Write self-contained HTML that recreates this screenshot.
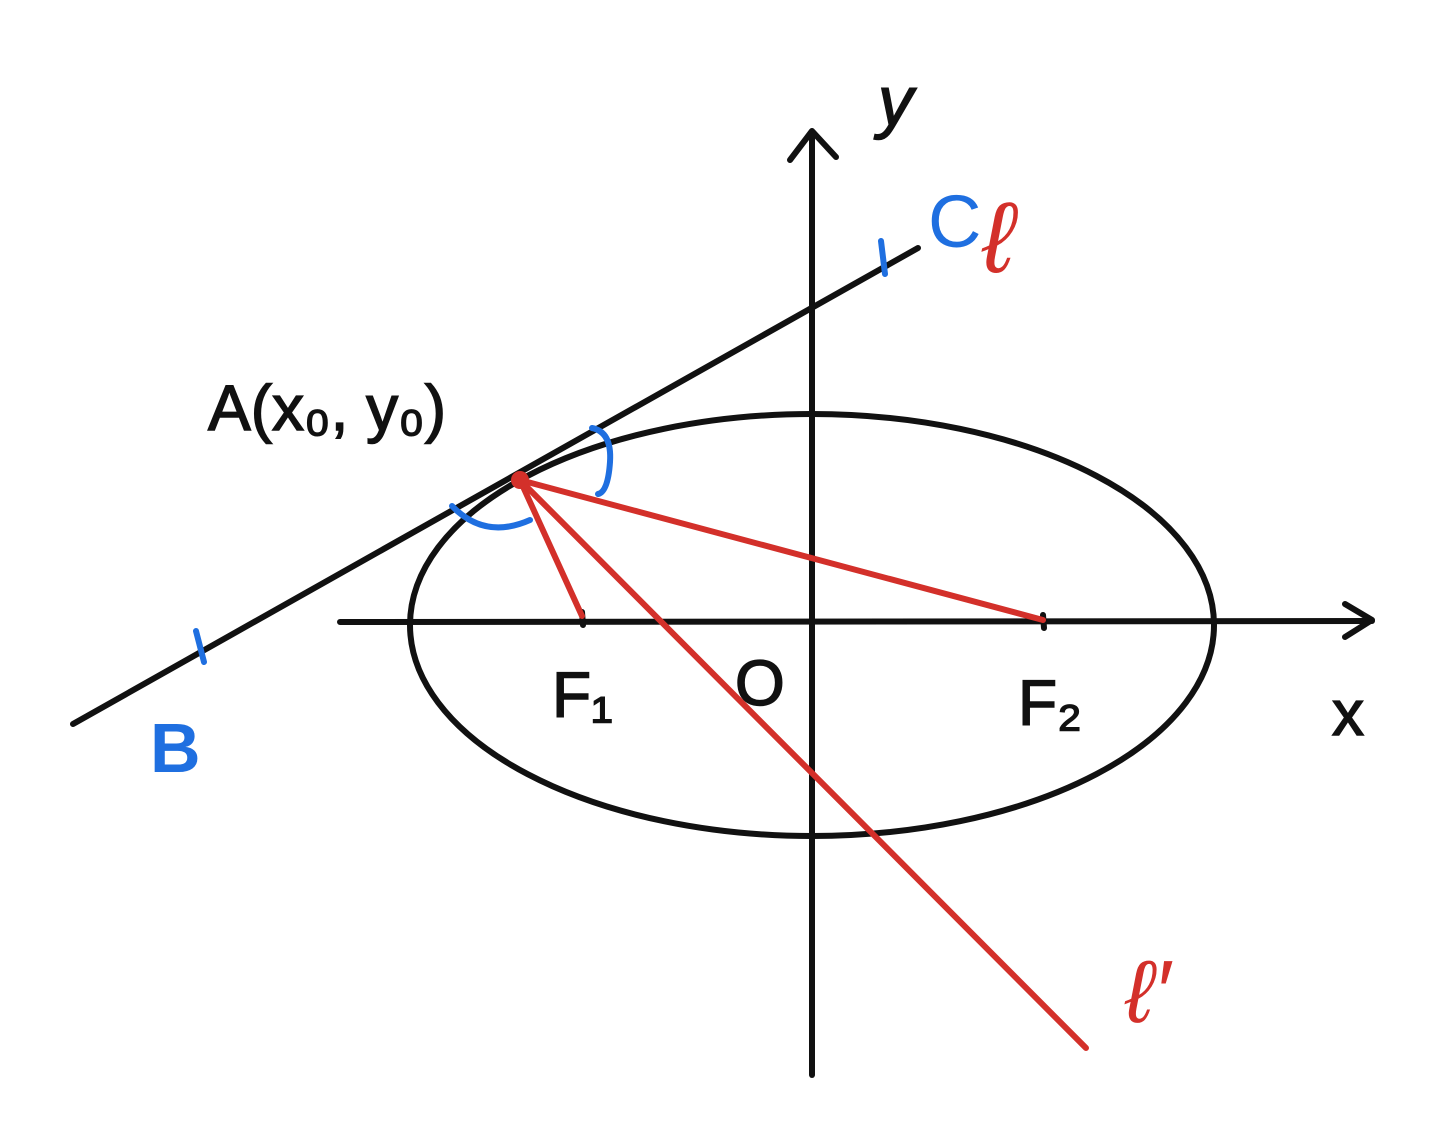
<!DOCTYPE html>
<html>
<head>
<meta charset="utf-8">
<style>
html,body{margin:0;padding:0;background:#fff;}
svg{display:block;}
text{font-family:"Liberation Sans",sans-serif;}
</style>
</head>
<body>
<svg width="1450" height="1131" viewBox="0 0 1450 1131" xmlns="http://www.w3.org/2000/svg">
<rect width="1450" height="1131" fill="#fff"/>
<g stroke="#111" stroke-width="6" fill="none" stroke-linecap="round" stroke-linejoin="round">
  <line x1="340" y1="622" x2="1372" y2="621"/>
  <polyline points="1345,604 1372,620 1345,637"/>
  <line x1="812" y1="1075" x2="812" y2="132"/>
  <polyline points="790,160 812,131 836,157"/>
  <ellipse cx="812" cy="625" rx="402" ry="211"/>
  <line x1="73" y1="724" x2="918" y2="248"/>
  <line x1="582" y1="612" x2="583" y2="625"/>
  <line x1="1043" y1="615" x2="1044" y2="628"/>
</g>
<g stroke="#d3302a" stroke-width="6" fill="none" stroke-linecap="round">
  <line x1="520" y1="480" x2="582" y2="616"/>
  <line x1="520" y1="480" x2="1043" y2="620"/>
  <line x1="520" y1="480" x2="1086" y2="1048"/>
</g>
<circle cx="520" cy="480" r="9" fill="#d3302a"/>
<g stroke="#1f6fe0" stroke-width="6" fill="none" stroke-linecap="round">
  <path d="M452,506 Q485,540 530,520"/>
  <path d="M592,428 Q612,432 610,462 Q608,492 598,494"/>
  <line x1="196" y1="631" x2="204" y2="662"/>
  <line x1="881" y1="241" x2="885" y2="274"/>
</g>
<g fill="#111" font-size="64" stroke="#111" stroke-width="1.5">
  <text x="878" y="125" font-style="italic" font-size="70">y</text>
  <text x="208" y="430">A(x₀, y₀)</text>
  <text x="552" y="717">F₁</text>
  <text x="735" y="705">O</text>
  <text x="1018" y="725">F₂</text>
  <text x="1332" y="735">x</text>
</g>
<text x="928" y="247" font-size="74" fill="#1f6fe0">C</text>
<text x="150" y="772" font-size="70" fill="#1f6fe0" font-weight="bold">B</text>
<text x="982" y="272" font-size="100" fill="#d3302a" font-style="italic">ℓ</text>
<text x="1125" y="1022" font-size="88" fill="#d3302a" font-style="italic">ℓ′</text>
</svg>
</body>
</html>
